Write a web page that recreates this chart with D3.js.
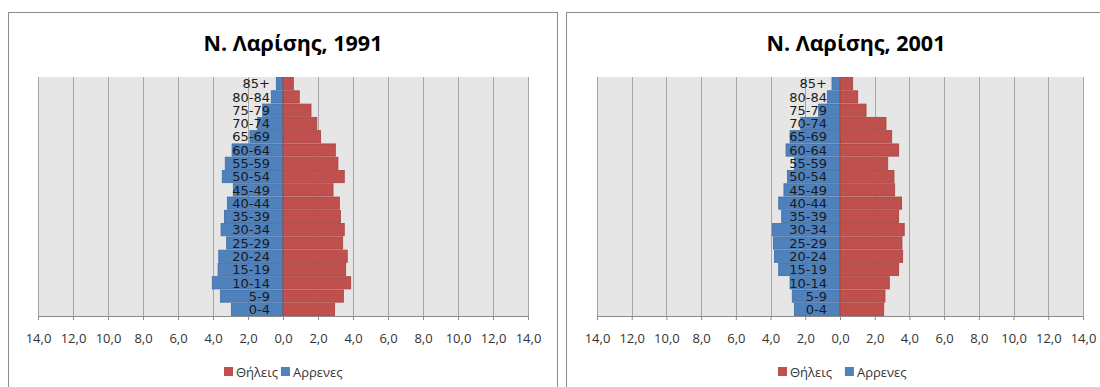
<!DOCTYPE html>
<html><head><meta charset="utf-8">
<script src="https://cdn.jsdelivr.net/npm/d3@7"></script>
<style>body{margin:0;background:#fff;}svg{display:block;}</style>
</head><body>
<svg id="c" width="1100" height="387"></svg>
<script>
const ageGroups = ["0-4","5-9","10-14","15-19","20-24","25-29","30-34","35-39","40-44","45-49","50-54","55-59","60-64","65-69","70-74","75-79","80-84","85+"];
const females1991 = [2.95,3.45,3.87,3.58,3.67,3.41,3.5,3.28,3.22,2.86,3.5,3.14,2.99,2.15,1.93,1.6,0.93,0.59];
const males1991   = [2.95,3.58,4.04,3.71,3.67,3.22,3.54,3.35,3.18,2.84,3.47,3.3,2.91,1.89,1.45,1.16,0.67,0.38];
const females2001 = [2.52,2.59,2.84,3.38,3.61,3.57,3.7,3.38,3.55,3.15,3.11,2.75,3.38,2.98,2.65,1.5,1.02,0.73];
const males2001   = [2.63,2.75,2.88,3.53,3.78,3.84,3.9,3.36,3.53,3.23,3.03,2.63,3.11,2.88,2.26,1.23,0.73,0.46];
const xTicks = [-14,-12,-10,-8,-6,-4,-2,0,2,4,6,8,10,12,14];
const seriesNames = ["Θήλεις","Αρρενες"];
const titles = ["Ν. Λαρίσης, 1991","Ν. Λαρίσης, 2001"];

const RED = "#c0504d", BLUE = "#4f81bd";
const svg = d3.select("#c");

function chart(cfg){
  const g = svg.append("g");
  g.append("rect").attr("x",cfg.bx+0.5).attr("y",12.5).attr("width",cfg.bw).attr("height",400)
    .attr("fill","#fff").attr("stroke","#8c8c8c").attr("stroke-width",1);
  g.append("text").attr("x",cfg.left+(cfg.right-cfg.left)/2+cfg.titleShift).attr("y",51)
    .attr("text-anchor","middle").attr("font-family","Open Sans").attr("font-weight","bold")
    .attr("font-size","21.5px").attr("fill","#000").text(cfg.title);
  const x = d3.scaleLinear().domain([-14,14]).range([cfg.left,cfg.right]);
  const y = d3.scaleBand().domain(ageGroups.slice().reverse()).range([77,316]).paddingInner(0.08).paddingOuter(0.04);
  const top=77,bottom=316;
  g.append("rect").attr("x",cfg.left).attr("y",top).attr("width",cfg.right-cfg.left).attr("height",bottom-top).attr("fill","#e6e6e6");
  g.selectAll("line.grid").data(xTicks).enter().append("line")
    .attr("x1",d=>Math.round(x(d))+0.5).attr("x2",d=>Math.round(x(d))+0.5)
    .attr("y1",top).attr("y2",bottom).attr("stroke","#a6a6a6").attr("stroke-width",1);
  g.selectAll("rect.m").data(ageGroups).enter().append("rect")
    .attr("x",(d,i)=>x(-cfg.males[i])).attr("width",(d,i)=>x(0)-x(-cfg.males[i]))
    .attr("y",d=>y(d)).attr("height",y.bandwidth())
    .attr("fill",BLUE).attr("stroke","#3d6da6").attr("stroke-width",0.8);
  g.selectAll("rect.f").data(ageGroups).enter().append("rect")
    .attr("x",x(0)).attr("width",(d,i)=>x(cfg.females[i])-x(0))
    .attr("y",d=>y(d)).attr("height",y.bandwidth())
    .attr("fill",RED).attr("stroke","#a8403d").attr("stroke-width",0.8);
  g.selectAll("text.cat").data(ageGroups).enter().append("text")
    .attr("x",x(0)-13).attr("y",d=>y(d)+y.bandwidth()/2+4.7)
    .attr("text-anchor","end").attr("font-family","DejaVu Sans").attr("font-size","13px")
    .attr("fill","#1a1a1a").text(d=>d);
  const ax = d3.axisBottom(x).tickValues(xTicks).tickSize(4).tickPadding(14)
    .tickFormat(d=>Math.abs(d).toFixed(1).replace(".",","));
  const axg = g.append("g").attr("transform",`translate(0,${bottom})`).call(ax);
  axg.select(".domain").attr("stroke","#8c8c8c").attr("d",`M${cfg.left},0.5H${cfg.right}`);
  axg.selectAll(".tick line").attr("stroke","#8c8c8c");
  axg.selectAll(".tick text").attr("font-family","Open Sans").attr("font-size","13px").attr("fill","#333");
  const lg = g.append("g").attr("font-family","Open Sans").attr("font-size","13px").attr("fill","#333");
  const cols=[RED,BLUE];
  let lx = cfg.legX;
  seriesNames.forEach((n,i)=>{
    lg.append("rect").attr("x",lx).attr("y",367).attr("width",9).attr("height",9).attr("fill",cols[i]);
    const t = lg.append("text").attr("x",lx+12).attr("y",376.5).text(n);
    lx += 12 + t.node().getComputedTextLength() + cfg.legGap;
  });
}
chart({bx:8,bw:549,left:38,right:528,title:titles[0],titleShift:10,females:females1991,males:males1991,legX:224,legGap:3});
chart({bx:566,bw:560,left:597,right:1083,title:titles[1],titleShift:16,females:females2001,males:males2001,legX:778,legGap:13});
</script>
</body></html>
